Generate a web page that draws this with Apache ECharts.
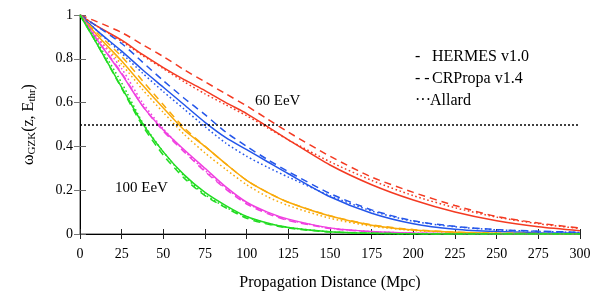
<!DOCTYPE html>
<html>
<head>
<meta charset="utf-8">
<script src="https://cdn.jsdelivr.net/npm/echarts@6/dist/echarts.min.js"></script>
<style>html,body{margin:0;padding:0;background:#fff}#c{width:599px;height:300px}</style>
</head>
<body>
<div id="c"></div>
<script>
// Propagation distance (Mpc)
const distances = [0,10,25,37.5,50,62.5,75,87.5,100,112.5,125,150,175,200,225,250,275,300];
const xTicks = [0,25,50,75,100,125,150,175,200,225,250,275,300];
const yTicks = [0,0.2,0.4,0.6,0.8,1];
// 60 EeV (red)
const red_HERMES  = [1,0.95,0.885,0.82,0.76,0.705,0.655,0.60,0.55,0.49,0.43,0.315,0.225,0.155,0.10,0.06,0.033,0.015];
const red_CRPropa = [1,0.97,0.92,0.865,0.81,0.75,0.695,0.64,0.585,0.525,0.465,0.355,0.26,0.19,0.13,0.08,0.05,0.027];
const red_Allard  = [1,0.95,0.88,0.815,0.755,0.695,0.64,0.59,0.54,0.485,0.43,0.33,0.245,0.175,0.12,0.077,0.047,0.025];
// blue
const blue_HERMES  = [1,0.93,0.835,0.75,0.67,0.59,0.51,0.44,0.385,0.33,0.275,0.17,0.095,0.047,0.022,0.011,0.006,0.004];
const blue_CRPropa = [1,0.95,0.87,0.785,0.70,0.62,0.545,0.465,0.40,0.34,0.285,0.185,0.11,0.06,0.035,0.02,0.013,0.008];
const blue_Allard  = [1,0.93,0.825,0.735,0.65,0.57,0.49,0.415,0.355,0.305,0.26,0.175,0.105,0.058,0.033,0.019,0.012,0.007];
// orange
const orange_HERMES  = [1,0.91,0.79,0.68,0.575,0.475,0.40,0.32,0.245,0.19,0.145,0.082,0.04,0.018,0.008,0.003,0.001,0];
const orange_CRPropa = [1,0.92,0.81,0.70,0.59,0.485,0.40,0.32,0.245,0.19,0.145,0.083,0.042,0.02,0.009,0.004,0.002,0.001];
const orange_Allard  = [1,0.90,0.775,0.66,0.555,0.455,0.37,0.295,0.225,0.17,0.13,0.072,0.036,0.016,0.007,0.003,0.001,0];
// magenta
const magenta_HERMES  = [1,0.89,0.73,0.585,0.475,0.385,0.30,0.215,0.145,0.10,0.068,0.028,0.011,0.004,0.0015,0.0005,0,0];
const magenta_CRPropa = [1,0.89,0.735,0.585,0.47,0.375,0.285,0.205,0.137,0.093,0.062,0.025,0.01,0.003,0.001,0,0,0];
const magenta_Allard  = [1,0.90,0.755,0.60,0.48,0.38,0.29,0.21,0.142,0.097,0.065,0.027,0.011,0.004,0.0015,0.0005,0,0];
// 100 EeV (green)
const green_HERMES  = [1,0.87,0.67,0.505,0.375,0.27,0.19,0.13,0.08,0.05,0.03,0.01,0.003,0.001,0,0,0,0];
const green_CRPropa = [1,0.87,0.665,0.495,0.36,0.255,0.175,0.12,0.072,0.045,0.027,0.009,0.003,0.001,0,0,0,0];
const green_Allard  = [1,0.88,0.69,0.51,0.375,0.265,0.18,0.122,0.078,0.048,0.03,0.01,0.003,0.001,0,0,0,0];
const threshold = 0.5;

const groups = [
  {color:'#f43a22', h:red_HERMES, c:red_CRPropa, a:red_Allard},
  {color:'#2456ea', h:blue_HERMES, c:blue_CRPropa, a:blue_Allard},
  {color:'#f9aa0a', h:orange_HERMES, c:orange_CRPropa, a:orange_Allard},
  {color:'#f040e0', h:magenta_HERMES, c:magenta_CRPropa, a:magenta_Allard},
  {color:'#22dc22', h:green_HERMES, c:green_CRPropa, a:green_Allard}
];
const F = 'Liberation Serif';
const pairs = arr => distances.map((d,i)=>[d,arr[i]]);
const series = [];
groups.forEach(g=>{
  [['h','solid'],['c',[7,5]],['a',[1.6,2.6]]].forEach(([k,t])=>{
    series.push({type:'line', data:pairs(g[k]), showSymbol:false, smooth:0.25,
      silent:true, lineStyle:{color:g.color, width:1.5, type:t}, z:2});
  });
});
series.push({type:'line', data:[], silent:true, markLine:{silent:true, symbol:'none', label:{show:false},
  lineStyle:{color:'#000', width:1.5, type:[2,2]}, data:[{yAxis:threshold}]}});

const chart = echarts.init(document.getElementById('c'));
chart.setOption({
  animation:false,
  grid:{left:80, right:19, top:15, bottom:66},
  xAxis:[{type:'value', min:0, max:300, interval:25, position:'bottom',
    axisLine:{lineStyle:{color:'#888', width:1.5}},
    axisTick:{inside:true, length:5, lineStyle:{color:'#222'}},
    axisLabel:{fontFamily:F, fontSize:14, color:'#000', margin:13},
    splitLine:{show:false},
    name:'Propagation Distance (Mpc)', nameLocation:'middle', nameGap:41,
    nameTextStyle:{fontFamily:F, fontSize:16, color:'#000'}},
   {type:'value', min:0, max:300, interval:25, position:'top',
    axisLine:{lineStyle:{color:'#000', width:1}},
    axisTick:{inside:true, length:5, lineStyle:{color:'#222'}},
    axisLabel:{show:false}, splitLine:{show:false}}],
  yAxis:[{type:'value', min:0, max:1, interval:0.2, position:'left',
    axisLine:{show:true, lineStyle:{color:'#888', width:1.5}},
    axisTick:{show:true, inside:true, length:6, lineStyle:{color:'#666'}},
    axisLabel:{fontFamily:F, fontSize:14, color:'#000', margin:7, formatter:v=>String(+v.toFixed(1))},
    splitLine:{show:false},
    name:'{a|ω}{b|GZK}{a|(z, E}{b|thr}{a|)}', nameLocation:'middle', nameGap:42, nameRotate:90,
    nameTextStyle:{rich:{a:{fontFamily:F, fontSize:16, color:'#000'}, b:{fontFamily:F, fontSize:11, color:'#000', padding:[8,0,0,0]}}}},
   {type:'value', min:0, max:1, interval:0.2, position:'right',
    axisLine:{show:true, lineStyle:{color:'#000', width:1}},
    axisTick:{show:true, inside:true, length:6, lineStyle:{color:'#777'}},
    axisLabel:{show:false}, splitLine:{show:false}}],
  series:series,
  graphic:[
    {type:'text', left:415, top:49, style:{text:'-', font:'16px "Liberation Serif"', fill:'#000'}},
    {type:'text', left:432, top:49, style:{text:'HERMES v1.0', font:'16px "Liberation Serif"', fill:'#000'}},
    {type:'text', left:415, top:71, style:{text:'- -', font:'16px "Liberation Serif"', fill:'#000'}},
    {type:'text', left:432, top:71, style:{text:'CRPropa v1.4', font:'16px "Liberation Serif"', fill:'#000'}},
    {type:'text', left:415, top:93, style:{text:'···', font:'16px "Liberation Serif"', fill:'#000'}},
    {type:'text', left:430, top:93, style:{text:'Allard', font:'16px "Liberation Serif"', fill:'#000'}},
    {type:'text', left:255, top:94, style:{text:'60 EeV', font:'15px "Liberation Serif"', fill:'#000'}},
    {type:'text', left:115, top:181, style:{text:'100 EeV', font:'15px "Liberation Serif"', fill:'#000'}}
  ]
});
</script>
</body>
</html>
